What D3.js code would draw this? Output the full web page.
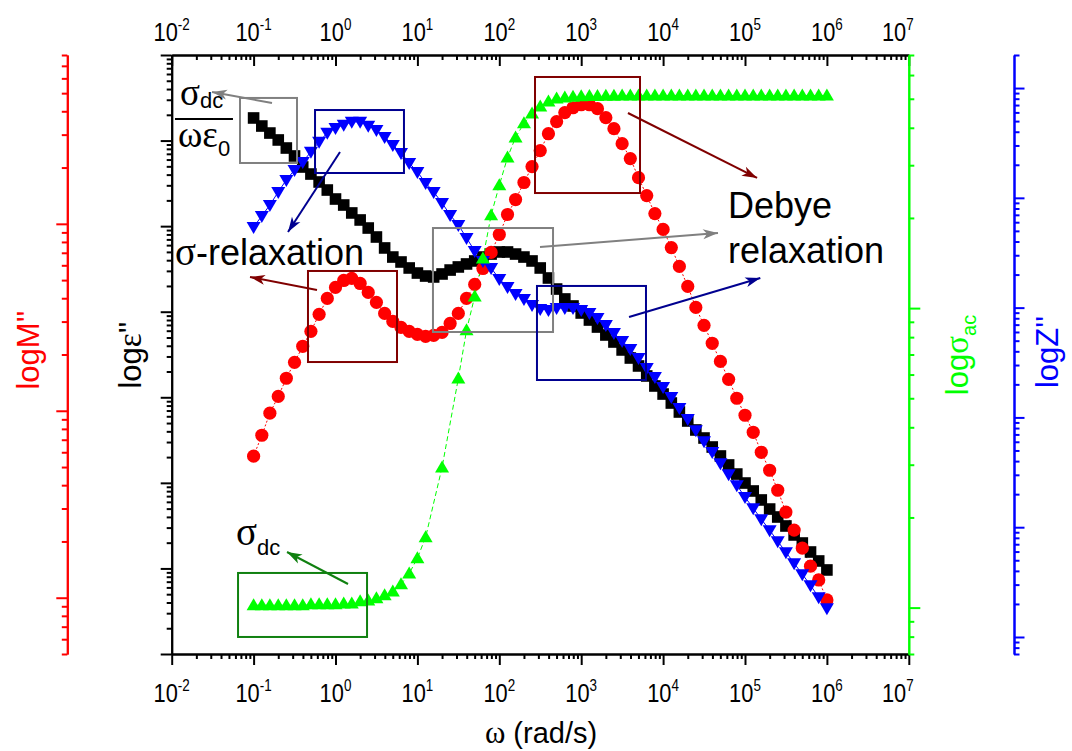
<!DOCTYPE html>
<html>
<head>
<meta charset="utf-8">
<script src="https://cdn.jsdelivr.net/npm/d3@7"></script>
<style>
  body { margin: 0; background: #fff; }
  text { font-family: "Liberation Sans", Arial, sans-serif; }
  tspan.greek { font-family: "Liberation Serif", "Times New Roman", serif; }
</style>
</head>
<body>
<svg id="chart" width="1072" height="751"></svg>
<script>
// Angular frequency grid (rad/s), 10 points per decade
const omega = [
  0.1, 0.126, 0.158, 0.2, 0.251, 0.316, 0.398, 0.501, 0.631, 0.794,
  1, 1.26, 1.58, 2, 2.51, 3.16, 3.98, 5.01, 6.31, 7.94,
  10, 12.6, 15.8, 20, 25.1, 31.6, 39.8, 50.1, 63.1, 79.4,
  100, 126, 158, 200, 251, 316, 398, 501, 631, 794,
  1000, 1260, 1580, 2000, 2510, 3160, 3980, 5010, 6310, 7940,
  1e4, 1.26e4, 1.58e4, 2e4, 2.51e4, 3.16e4, 3.98e4, 5.01e4, 6.31e4, 7.94e4,
  1e5, 1.26e5, 1.58e5, 2e5, 2.51e5, 3.16e5, 3.98e5, 5.01e5, 6.31e5, 7.94e5,
  1e6
];

// log10 of dielectric loss ε''
const logEpsilon = [
  6.264, 6.170, 6.088, 6.007, 5.913, 5.820, 5.691, 5.609, 5.516, 5.422,
  5.317, 5.247, 5.154, 5.072, 4.978, 4.873, 4.745, 4.639, 4.581, 4.511,
  4.452, 4.417, 4.406, 4.441, 4.487, 4.523, 4.558, 4.593, 4.639, 4.674,
  4.698, 4.698, 4.674, 4.639, 4.593, 4.511, 4.394, 4.265, 4.149, 4.067,
  3.985, 3.903, 3.821, 3.728, 3.646, 3.553, 3.459, 3.366, 3.249, 3.132,
  3.038, 2.933, 2.828, 2.723, 2.618, 2.524, 2.419, 2.314, 2.209, 2.103,
  1.998, 1.905, 1.800, 1.694, 1.601, 1.496, 1.391, 1.297, 1.192, 1.087,
  0.982
];

// log10 of electric modulus loss M''
const logModulus = [
  -2.243, -2.131, -2.013, -1.923, -1.826, -1.741, -1.655, -1.575, -1.484, -1.399,
  -1.340, -1.303, -1.292, -1.319, -1.367, -1.420, -1.479, -1.522, -1.554, -1.575,
  -1.591, -1.602, -1.597, -1.581, -1.533, -1.479, -1.399, -1.324, -1.239, -1.153,
  -1.057, -0.950, -0.870, -0.779, -0.694, -0.608, -0.518, -0.453, -0.405, -0.379,
  -0.363, -0.363, -0.384, -0.432, -0.491, -0.571, -0.651, -0.753, -0.849, -0.945,
  -1.030, -1.127, -1.228, -1.335, -1.447, -1.543, -1.639, -1.736, -1.832, -1.933,
  -2.024, -2.115, -2.222, -2.318, -2.425, -2.542, -2.638, -2.735, -2.831, -2.905,
  -3.012
];

// log10 of ac conductivity σac (S/cm); null = no reading at that frequency
const logSigmaAC = [
  -6.992, -6.992, -6.992, -6.992, -6.992, -6.992, -6.992, -6.989, -6.989, -6.989,
  -6.989, -6.986, -6.986, -6.979, -6.976, -6.969, -6.959, -6.946, -6.922, -6.886,
  -6.835, -6.765, null, -6.532, null, -6.235, -6.074, -5.961, -5.834, -5.690,
  -5.590, -5.497, -5.430, -5.383, -5.350, -5.327, -5.310, -5.300, -5.297, -5.294,
  -5.293, -5.292, -5.292, -5.291, -5.291, -5.290, -5.290, -5.290, -5.290, -5.290,
  -5.290, -5.290, -5.290, -5.290, -5.290, -5.290, -5.290, -5.290, -5.290, -5.290,
  -5.290, -5.290, -5.290, -5.290, -5.290, -5.290, -5.290, -5.290, -5.290, -5.290,
  -5.290
];

// log10 of imaginary impedance Z'' (Ω)
const logImpedance = [
  6.735, 6.835, 6.935, 7.054, 7.163, 7.254, 7.327, 7.419, 7.510, 7.592,
  7.637, 7.665, 7.692, 7.692, 7.656, 7.619, 7.555, 7.482, 7.409, 7.318,
  7.236, 7.136, 7.054, 6.954, 6.844, 6.753, 6.635, 6.516, 6.425, 6.361,
  6.261, 6.188, 6.124, 6.078, 6.024, 5.987, 5.978, 5.996, 5.996, 5.996,
  5.978, 5.951, 5.905, 5.841, 5.769, 5.696, 5.623, 5.541, 5.449, 5.367,
  5.276, 5.185, 5.085, 4.985, 4.884, 4.784, 4.684, 4.583, 4.483, 4.383,
  4.274, 4.173, 4.073, 3.973, 3.872, 3.772, 3.672, 3.572, 3.471, 3.362,
  3.262
];

// decade exponents labelled on the frequency axes
const xTickExponents = [-2, -1, 0, 1, 2, 3, 4, 5, 6, 7];

// annotation boxes in (log ω, log ε'') coordinates
const boxes = [
  { color: "#808080", w: [-1.166, -0.470], e: [5.738, 6.498] },
  { color: "#000090", w: [-0.250, 0.836], e: [5.621, 6.357] },
  { color: "#800000", w: [-0.336, 0.751], e: [3.412, 4.476] },
  { color: "#808080", w: [1.190, 2.656], e: [3.763, 4.978] },
  { color: "#800000", w: [2.436, 3.718], e: [5.387, 6.743] },
  { color: "#000090", w: [2.460, 3.791], e: [3.202, 4.301] },
  { color: "#108010", w: [-1.190, 0.385], e: [0.199, 0.947] }
];
const arrows = [
  { color: "#808080", from: [-0.775, 6.439], to: [-1.508, 6.568] },
  { color: "#000090", from: [0.055, 5.867], to: [-0.580, 4.932] },
  { color: "#800000", from: [-0.226, 4.254], to: [-1.044, 4.406] },
  { color: "#808080", from: [2.497, 4.756], to: [4.670, 4.920] },
  { color: "#800000", from: [3.571, 6.322], to: [5.147, 5.563] },
  { color: "#000090", from: [3.584, 3.938], to: [5.187, 4.394] },
  { color: "#108010", from: [0.153, 0.818], to: [-0.592, 1.192] }
];

const svg = d3.select("#chart");
const plot = { left: 171.7, right: 908.8, top: 55, bottom: 654 };

const x = d3.scaleLog().domain([1e-2, 1e7]).range([plot.left, plot.right]);
const yEps = d3.scaleLog().domain([1, 1e7]).range([plot.bottom, plot.top]);
const yM = d3.scaleLog().domain([5e-4, 0.8]).range([plot.bottom, plot.top]);
const ySig = d3.scaleLog().domain([7e-8, 7e-6]).range([plot.bottom, plot.top]);
const yZ = d3.scaleLog().domain([700, 2e8]).range([plot.bottom, plot.top]);

// major (1·10^n) and minor (2..9·10^n) tick values inside a log domain
function logTicks(scale) {
  const [a, b] = scale.domain();
  const majors = [], minors = [];
  for (let e = Math.floor(Math.log10(a)) - 1; e <= Math.ceil(Math.log10(b)); e++) {
    for (let k = 1; k < 10; k++) {
      const v = k * Math.pow(10, e);
      if (v < a * 0.9999 || v > b * 1.0001) continue;
      (k === 1 ? majors : minors).push(v);
    }
  }
  return { majors, minors };
}

function drawAxis(axisFn, scale, transform, color, majorLen, minorLen) {
  const t = logTicks(scale);
  const g = svg.append("g").attr("transform", transform);
  g.append("g").call(axisFn(scale).tickValues(t.minors)
    .tickSizeInner(minorLen).tickSizeOuter(0).tickFormat(""));
  g.append("g").call(axisFn(scale).tickValues(t.majors)
    .tickSizeInner(majorLen).tickSizeOuter(0).tickFormat(""));
  g.selectAll(".domain").attr("stroke", color).attr("stroke-width", 2);
  g.selectAll(".tick line").attr("stroke", color).attr("stroke-width", 2);
  return g;
}

// frequency axes
drawAxis(d3.axisBottom, x, `translate(0,${plot.bottom})`, "#000", 11, 5);
drawAxis(d3.axisTop, x, `translate(0,${plot.top})`, "#000", -11, -5);
// property axes
drawAxis(d3.axisLeft, yEps, `translate(${plot.left},0)`, "#000", 11, 5);
drawAxis(d3.axisLeft, yM, `translate(67.3,0)`, "#ff0000", 11, 5.5);
drawAxis(d3.axisRight, ySig, `translate(${plot.right},0)`, "#00ff00", 11.5, 5.5);
drawAxis(d3.axisRight, yZ, `translate(1014,0)`, "#0000ff", 10.5, 5.5);

// decade labels 10^n on bottom and top; the last one is pulled inside
function decadeLabel(px, py, e) {
  const g = svg.append("g").attr("transform", `translate(${px},${py}) scale(0.84,1)`);
  const t = g.append("text").attr("text-anchor", "middle")
    .attr("font-size", 26).attr("fill", "#000");
  t.append("tspan").text("10");
  t.append("tspan").attr("font-size", 16).attr("dy", -11).text(e);
}
xTickExponents.forEach((e, i) => {
  const px = x(Math.pow(10, e)) - (i === xTickExponents.length - 1 ? 11 : 0);
  decadeLabel(px, 702, e);
  decadeLabel(px, 41, e);
});

// rich text: parts carry optional greek font, size and baseline shift
function richText(sel, parts) {
  parts.forEach(p => {
    const s = sel.append("tspan").text(p.text);
    if (p.greek) s.attr("class", "greek");
    if (p.size) s.attr("font-size", p.size);
    if (p.dy) s.attr("dy", p.dy);
  });
  return sel;
}

// axis titles
richText(svg.append("text").attr("x", 541).attr("y", 743).attr("text-anchor", "middle")
  .attr("font-size", 29), [{ text: "ω", greek: true, size: 31 }, { text: " (rad/s)" }]);

function verticalTitle(cx, cy, color, parts) {
  const t = svg.append("text").attr("transform", `translate(${cx},${cy}) rotate(-90)`)
    .attr("text-anchor", "middle").attr("fill", color).attr("font-size", 31);
  richText(t, parts);
}
verticalTitle(141, 355, "#000", [{ text: "log" }, { text: "ε", greek: true, size: 33 }, { text: "''" }]);
verticalTitle(39, 350, "#ff0000", [{ text: "logM''" }]);
verticalTitle(968, 355, "#00ff00", [{ text: "log" }, { text: "σ", greek: true, size: 33 },
  { text: "ac", size: 20, dy: 8 }]);
verticalTitle(1058, 352, "#0000ff", [{ text: "logZ''" }]);

// series
function seriesPoints(logs) {
  return omega.map((w, i) => ({ w, v: logs[i] == null ? null : Math.pow(10, logs[i]) }))
    .filter(d => d.v !== null);
}
const epsPts = seriesPoints(logEpsilon);
const mPts = seriesPoints(logModulus);
const sigPts = seriesPoints(logSigmaAC);
const zPts = seriesPoints(logImpedance);

function connector(pts, yScale, color, dash) {
  svg.append("path").datum(pts)
    .attr("fill", "none").attr("stroke", color).attr("stroke-width", 1)
    .attr("stroke-dasharray", dash)
    .attr("d", d3.line().x(d => x(d.w)).y(d => yScale(d.v)));
}
connector(epsPts, yEps, "#000", null);
connector(mPts, yM, "#ff0000", "2,2");
connector(zPts, yZ, "#0000ff", null);
connector(sigPts, ySig, "#00ff00", "5,3");

// ε'' squares
svg.append("g").selectAll("rect").data(epsPts).join("rect")
  .attr("x", d => x(d.w) - 5.8).attr("y", d => yEps(d.v) - 5.8)
  .attr("width", 11.6).attr("height", 11.6).attr("fill", "#000");
// M'' circles
svg.append("g").selectAll("circle").data(mPts).join("circle")
  .attr("cx", d => x(d.w)).attr("cy", d => yM(d.v)).attr("r", 6.6)
  .attr("fill", "#ff0000");
// Z'' down triangles
svg.append("g").selectAll("path").data(zPts).join("path")
  .attr("transform", d => `translate(${x(d.w)},${yZ(d.v)})`)
  .attr("d", "M-7,-5 L7,-5 L0,7 Z").attr("fill", "#0000ff");
// σac up triangles
svg.append("g").selectAll("path").data(sigPts).join("path")
  .attr("transform", d => `translate(${x(d.w)},${ySig(d.v)})`)
  .attr("d", "M-7,5 L7,5 L0,-7 Z").attr("fill", "#00ff00");

// annotations
const ax = lw => x(Math.pow(10, lw));
const ay = le => yEps(Math.pow(10, le));
const defs = svg.append("defs");
const markerId = c => "head" + c.replace("#", "");
[...new Set(arrows.map(a => a.color))].forEach(c => {
  defs.append("marker").attr("id", markerId(c))
    .attr("viewBox", "-16 -6 18 12").attr("refX", 0).attr("refY", 0)
    .attr("markerWidth", 18).attr("markerHeight", 12)
    .attr("markerUnits", "userSpaceOnUse").attr("orient", "auto")
    .append("path").attr("d", "M0,0 L-15,-5 L-11,0 L-15,5 Z").attr("fill", c);
});
svg.append("g").selectAll("rect").data(boxes).join("rect")
  .attr("x", d => ax(d.w[0])).attr("y", d => ay(d.e[1]))
  .attr("width", d => ax(d.w[1]) - ax(d.w[0]))
  .attr("height", d => ay(d.e[0]) - ay(d.e[1]))
  .attr("fill", "none").attr("stroke", d => d.color).attr("stroke-width", 2);
svg.append("g").selectAll("line").data(arrows).join("line")
  .attr("x1", d => ax(d.from[0])).attr("y1", d => ay(d.from[1]))
  .attr("x2", d => ax(d.to[0])).attr("y2", d => ay(d.to[1]))
  .attr("stroke", d => d.color).attr("stroke-width", 2)
  .attr("marker-end", d => `url(#${markerId(d.color)})`);

function label(lw, le, size, parts) {
  const t = svg.append("text").attr("x", ax(lw)).attr("y", ay(le))
    .attr("font-size", size).attr("fill", "#000");
  richText(t, parts);
}
label(-1.960, 4.546, 36, [{ text: "σ", greek: true, size: 39 }, { text: "-relaxation" }]);
label(4.792, 5.095, 36, [{ text: "Debye" }]);
label(4.792, 4.569, 36, [{ text: "relaxation" }]);
label(-1.215, 1.274, 36, [{ text: "σ", greek: true, size: 39 }, { text: "dc", size: 22, dy: 10 }]);
// σdc / ωε0 fraction
label(-1.899, 6.416, 34, [{ text: "σ", greek: true, size: 37 }, { text: "dc", size: 22, dy: 3 }]);
svg.append("line").attr("x1", ax(-1.960)).attr("x2", ax(-1.252))
  .attr("y1", ay(6.252)).attr("y2", ay(6.252))
  .attr("stroke", "#000").attr("stroke-width", 2.2);
label(-1.923, 5.925, 34, [{ text: "ωε", greek: true, size: 37 }, { text: "0", size: 22, dy: 9 }]);
</script>
</body>
</html>
